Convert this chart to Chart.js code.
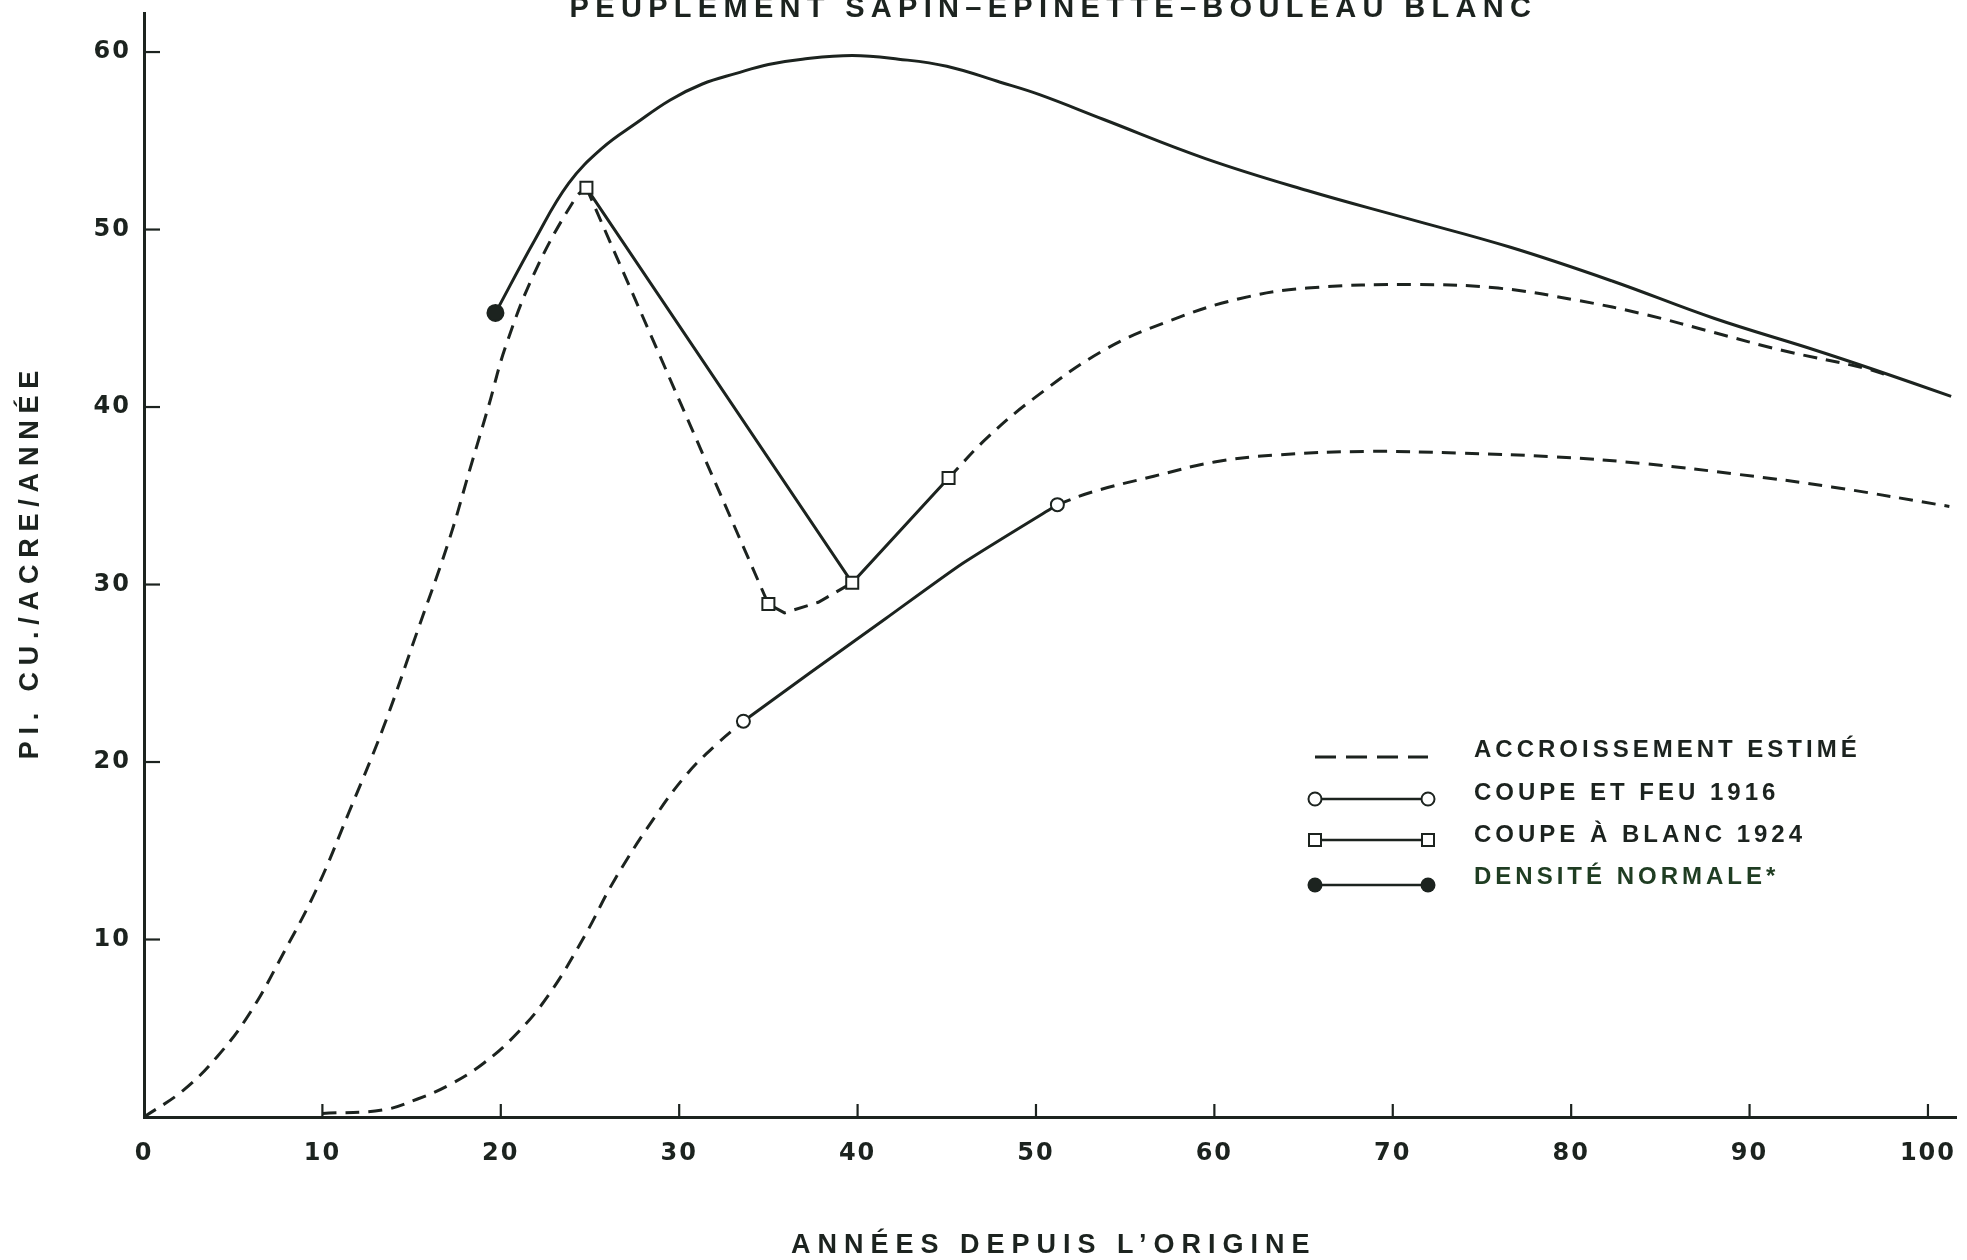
<!DOCTYPE html>
<html>
<head>
<meta charset="utf-8">
<script src="https://cdn.jsdelivr.net/npm/chart.js@4/dist/chart.umd.min.js"></script>
<style>
  html, body { margin: 0; padding: 0; background: #fff; }
  #wrap { width: 1967px; height: 1260px; }
</style>
</head>
<body>
<div id="wrap"><canvas id="growthChart" width="1967" height="1260"></canvas></div>
<script>
// values (age in years, pi. cu./acre/year)
const xTicks = [0, 10, 20, 30, 40, 50, 60, 70, 80, 90, 100];
const yTicks = [10, 20, 30, 40, 50, 60];

const normalYears  = [19.7, 21.9, 23.8, 25.7, 27.6, 29.5, 31.3, 33.2, 35.0, 36.9, 39.7, 42.3, 45, 48, 50.2, 53.8, 59.5, 65.2, 70.9, 76.6, 82.3, 88, 93.7, 97, 101.3];
const normalValues = [45.3, 49.4, 52.6, 54.6, 56.0, 57.3, 58.2, 58.8, 59.3, 59.6, 59.8, 59.6, 59.2, 58.3, 57.6, 56.2, 54.0, 52.2, 50.6, 49.0, 47.1, 45.0, 43.2, 42.1, 40.6];

const riseYears  = [0, 2.2, 4.1, 5.9, 7.8, 9.7, 11.5, 13.4, 15.3, 17.1, 18.3, 19.3, 20.3, 22.0, 24.2, 24.8];
const riseValues = [0, 1.5, 3.4, 5.8, 9.2, 12.9, 17.2, 21.9, 27.3, 32.5, 36.6, 40.0, 43.5, 47.8, 51.8, 52.35];

const cutYears  = [24.8, 35.0, 35.9, 37.8, 39.7];
const cutValues = [52.35, 28.9, 28.4, 29.0, 30.1];

const upperYears  = [45.1, 47.3, 49.9, 53.8, 57.6, 61.4, 65.2, 71.3, 75.9, 80.4, 84.2, 88, 91.8, 96.4, 98];
const upperValues = [36.0, 38.3, 40.5, 43.2, 44.9, 46.1, 46.7, 46.9, 46.7, 46.0, 45.2, 44.2, 43.2, 42.2, 41.7];

const lowEarlyYears  = [10.0, 13.4, 15.3, 17.1, 19.0, 20.9, 22.7, 24.7, 26.4, 28.7, 30.5, 32.1, 33.6];
const lowEarlyValues = [0.2, 0.4, 1.0, 1.8, 3.0, 4.7, 6.9, 10.2, 13.4, 17.0, 19.4, 21.0, 22.3];

const feuYears  = [33.6, 37.3, 41.6, 45.9, 51.2];
const feuValues = [22.3, 25.0, 28.1, 31.2, 34.5];

const lowLateYears  = [51.2, 53.1, 56.6, 60.0, 63.5, 68.6, 73.8, 79.0, 84.2, 89.4, 94.6, 101.2];
const lowLateValues = [34.5, 35.2, 36.1, 36.9, 37.3, 37.5, 37.4, 37.2, 36.8, 36.2, 35.5, 34.4];

const blancYears  = [24.8, 39.7, 45.1];
const blancValues = [52.35, 30.1, 36.0];

const ink = '#1c231f';
const dash = [14, 9];
const FONT = '"Liberation Sans", "DejaVu Sans", Arial, sans-serif';
const TICKFONT = '"DejaVu Sans", "Liberation Sans", sans-serif';

function toPoints(xs, ys) {
  return xs.map((x, i) => ({x: x, y: ys[i]}));
}

function line(label, xs, ys, extra) {
  return Object.assign({
    label: label,
    data: toPoints(xs, ys),
    borderColor: ink,
    backgroundColor: '#ffffff',
    borderWidth: 3,
    pointRadius: 0,
    pointHoverRadius: 0,
    pointBorderColor: ink,
    pointBorderWidth: 2,
    fill: false,
    clip: false,
    tension: 0.4
  }, extra);
}

const datasets = [
  line('DENSITÉ NORMALE*', normalYears, normalValues, {
    pointRadius: normalYears.map((v, i) => i === 0 ? 8 : 0),
    pointBackgroundColor: ink,
    pointStyle: 'circle'
  }),
  line('COUPE À BLANC 1924', blancYears, blancValues, {
    tension: 0, pointStyle: 'rect', pointRadius: 8.5, pointBackgroundColor: '#ffffff'
  }),
  line('COUPE ET FEU 1916', feuYears, feuValues, {
    tension: 0.2,
    pointStyle: 'circle',
    pointRadius: feuYears.map((v, i) => (i === 0 || i === feuYears.length - 1) ? 6.5 : 0),
    pointBackgroundColor: '#ffffff'
  }),
  line('ACCROISSEMENT ESTIMÉ', cutYears, cutValues, {
    borderDash: dash, tension: 0,
    pointStyle: 'rect',
    pointRadius: cutYears.map((v, i) => i === 1 ? 8.5 : 0),
    pointBackgroundColor: '#ffffff'
  }),
  line('ACCROISSEMENT ESTIMÉ', riseYears, riseValues, {borderDash: dash}),
  line('ACCROISSEMENT ESTIMÉ', upperYears, upperValues, {borderDash: dash}),
  line('ACCROISSEMENT ESTIMÉ', lowEarlyYears, lowEarlyValues, {borderDash: dash}),
  line('ACCROISSEMENT ESTIMÉ', lowLateYears, lowLateValues, {borderDash: dash})
];

function spacedText(ctx, text, x, y, spacing, align) {
  ctx.letterSpacing = spacing + 'px';
  const w = ctx.measureText(text).width - spacing;
  let sx = x;
  if (align === 'center') sx = x - w / 2;
  if (align === 'right') sx = x - w;
  ctx.textAlign = 'left';
  ctx.fillText(text, sx, y);
  ctx.letterSpacing = '0px';
}

// inward tick marks, titles and the hand-made legend
const decorations = {
  id: 'decorations',
  beforeDraw(chart) {
    chart.ctx.letterSpacing = '2px';
  },
  afterDraw(chart) {
    const {ctx, chartArea, scales} = chart;
    const xs = scales.x, ys = scales.y;
    ctx.save();
    ctx.letterSpacing = '0px';
    ctx.strokeStyle = ink;
    ctx.lineWidth = 2.2;
    ctx.setLineDash([]);
    xs.ticks.forEach(t => {
      if (t.value === 0) return;
      const px = xs.getPixelForValue(t.value);
      ctx.beginPath();
      ctx.moveTo(px, chartArea.bottom);
      ctx.lineTo(px, chartArea.bottom - 13);
      ctx.stroke();
    });
    ys.ticks.forEach(t => {
      const py = ys.getPixelForValue(t.value);
      ctx.beginPath();
      ctx.moveTo(chartArea.left, py);
      ctx.lineTo(chartArea.left + 16, py);
      ctx.stroke();
    });

    ctx.fillStyle = ink;
    ctx.textBaseline = 'alphabetic';
    const cx = (chartArea.left + chartArea.right) / 2;

    // title, cut off at the top edge as in the scan
    ctx.font = 'bold 29px ' + FONT;
    spacedText(ctx, 'PEUPLEMENT SAPIN–ÉPINETTE–BOULEAU BLANC', cx, 17, 6.3, 'center');

    // axis titles
    ctx.font = 'bold 27px ' + FONT;
    ctx.textBaseline = 'middle';
    spacedText(ctx, 'ANNÉES DEPUIS L\u2019ORIGINE', cx, 1246, 7, 'center');
    ctx.save();
    ctx.translate(31, (chartArea.top + chartArea.bottom) / 2);
    ctx.rotate(-Math.PI / 2);
    spacedText(ctx, 'PI. CU./ACRE/ANNÉE', 0, 0, 6.8, 'center');
    ctx.restore();

    // legend
    const x0 = 1315, x1 = 1428, tx = 1474;
    const rows = [
      {label: 'ACCROISSEMENT ESTIMÉ', ty: 750, ly: 757, kind: 'dash'},
      {label: 'COUPE ET FEU 1916', ty: 793, ly: 799, kind: 'circle'},
      {label: 'COUPE À BLANC 1924', ty: 835, ly: 840, kind: 'rect'},
      {label: 'DENSITÉ NORMALE*', ty: 877, ly: 885, kind: 'dot'}
    ];
    rows.forEach(r => {
      ctx.strokeStyle = ink;
      ctx.lineWidth = r.kind === 'dash' ? 3.2 : 2.6;
      ctx.setLineDash(r.kind === 'dash' ? [21, 10] : []);
      ctx.beginPath();
      ctx.moveTo(x0, r.ly);
      ctx.lineTo(x1, r.ly);
      ctx.stroke();
      ctx.setLineDash([]);
      ctx.lineWidth = 2;
      [x0, x1].forEach(mx => {
        if (r.kind === 'circle') {
          ctx.beginPath(); ctx.arc(mx, r.ly, 6.5, 0, Math.PI * 2);
          ctx.fillStyle = '#fff'; ctx.fill(); ctx.stroke();
        } else if (r.kind === 'rect') {
          ctx.fillStyle = '#fff';
          ctx.fillRect(mx - 6, r.ly - 6, 12, 12); ctx.strokeRect(mx - 6, r.ly - 6, 12, 12);
        } else if (r.kind === 'dot') {
          ctx.beginPath(); ctx.arc(mx, r.ly, 7.5, 0, Math.PI * 2);
          ctx.fillStyle = ink; ctx.fill();
        }
      });
      ctx.fillStyle = r.kind === 'dot' ? '#1f3d22' : ink;
      ctx.font = 'bold 24px ' + FONT;
      ctx.textBaseline = 'middle';
      spacedText(ctx, r.label, tx, r.ty, 4, 'left');
    });
    ctx.restore();
  }
};

new Chart(document.getElementById('growthChart'), {
  type: 'line',
  data: {datasets: datasets},
  plugins: [decorations],
  options: {
    responsive: false,
    animation: false,
    events: [],
    layout: {padding: {top: 13, right: 7, left: 0, bottom: 0}},
    plugins: {legend: {display: false}, tooltip: {enabled: false}, title: {display: false}},
    scales: {
      x: {
        type: 'linear', min: 0, max: 101.6,
        afterBuildTicks: s => { s.ticks = xTicks.map(v => ({value: v})); },
        afterFit: s => { s.height = 143; s.paddingLeft = 0; s.paddingRight = 0; },
        grid: {display: false, drawTicks: false},
        border: {display: true, color: ink, width: 3},
        ticks: {padding: 22, color: ink, font: {family: TICKFONT, size: 24, weight: 'bold'}, maxRotation: 0, autoSkip: false}
      },
      y: {
        type: 'linear', min: 0, max: 62.2,
        afterBuildTicks: s => { s.ticks = yTicks.map(v => ({value: v})); },
        afterFit: s => { s.width = 144; s.paddingTop = 0; s.paddingBottom = 0; },
        grid: {display: false, drawTicks: false},
        border: {display: true, color: ink, width: 3},
        ticks: {padding: 13, color: ink, font: {family: TICKFONT, size: 24, weight: 'bold'}, autoSkip: false}
      }
    }
  }
});
</script>
</body>
</html>
